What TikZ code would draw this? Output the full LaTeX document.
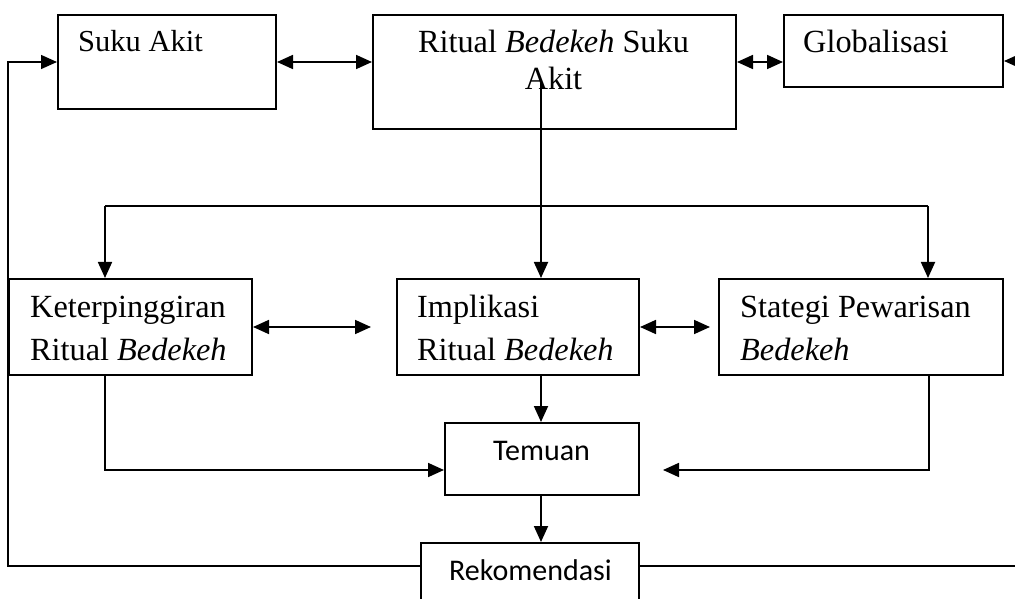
\documentclass[tikz,border=0pt]{standalone}
\usepackage{fontspec}
\setmainfont{Liberation Serif}
\newfontfamily\calfont{Carlito}
\usetikzlibrary{arrows.meta,calc}
\tikzset{
  box/.style={draw, line width=2bp, inner sep=0pt, anchor=north west},
  txt/.style={anchor=base west, inner sep=0pt, font=\fontsize{32.3bp}{38bp}\selectfont},
  txtc/.style={anchor=base, inner sep=0pt, font=\fontsize{32.3bp}{38bp}\selectfont},
  stxt/.style={anchor=base west, inner sep=0pt, font=\calfont\fontsize{30bp}{36bp}\selectfont},
  conn/.style={line width=1.8bp},
  thin/.style={line width=1.4bp},
  arr/.style={conn, -{Triangle[length=16bp,width=14bp]}},
  darr/.style={conn, {Triangle[length=16bp,width=14bp]}-{Triangle[length=16bp,width=14bp]}},
}
\begin{document}
\begin{tikzpicture}[x=1bp,y=-1bp]
\useasboundingbox (0,0) rectangle (1015,599);
% boxes
\node[box, minimum width=218bp, minimum height=94bp] (suku) at (57,14) {};
\node[box, minimum width=363bp, minimum height=114bp] (ritual) at (372,14) {};
\node[box, minimum width=219bp, minimum height=72bp] (glob) at (783,14) {};
\node[box, minimum width=243bp, minimum height=96bp] (keter) at (8,278) {};
\node[box, minimum width=242bp, minimum height=96bp] (impl) at (396,278) {};
\node[box, minimum width=284bp, minimum height=96bp] (strat) at (718,278) {};
\node[box, minimum width=194bp, minimum height=72bp] (temuan) at (444,422) {};
\node[box, minimum width=218bp, minimum height=80bp] (rekom) at (420,542) {};
% texts
\node[txt, font=\fontsize{30.5bp}{36bp}\selectfont] (tsuku) at (78,52) {Suku Akit};
\node[txtc] (trit1) at (553.5,53) {Ritual \textit{Bedekeh} Suku};
\node[txtc] (trit2) at (553.5,90) {Akit};
\node[txt] (tglob) at (803,53) {Globalisasi};
\node[txt] (tket1) at (30,317) {Keterpinggiran};
\node[txt] (tket2) at (30,360) {Ritual \textit{Bedekeh}};
\node[txt] (timp1) at (417,317) {Implikasi};
\node[txt] (timp2) at (417,360) {Ritual \textit{Bedekeh}};
\node[txt] (tstr1) at (740,317) {Stategi Pewarisan};
\node[txt] (tstr2) at (740,360) {\textit{Bedekeh}};
\node[stxt] (ttem) at (493,460) {Temuan};
\node[stxt] (trek) at (449,580) {Rekomendasi};
% free ends and bends
\coordinate (gr) at (1020,61);
\coordinate (rv) at (541,83);
\coordinate (hl) at (105,206);
\coordinate (hr) at (928,206);
\coordinate (ki) at (371,327);
\coordinate (is) at (710,327);
\coordinate (tk) at (105,470);
\coordinate (ts) at (929,470);
\coordinate (tf) at (663,470);
\coordinate (rl) at (8,566);
\coordinate (rr) at (1020,566);
% connectors
\draw[darr] (suku.east) -- (suku.east -| ritual.west);
\draw[darr] (suku.east -| ritual.east) -- (suku.east -| glob.west);
\draw[arr] (gr) -- (gr -| glob.east);
\draw[arr] (rv) -- (rv |- impl.north);
\draw[conn] (hl) -- (hr);
\draw[arr] (hl) -- (hl |- keter.north);
\draw[arr] (hr) -- (hr |- strat.north);
\draw[darr] (keter.east |- ki) -- (ki);
\draw[darr] (impl.east |- is) -- (is);
\draw[arr] (rv |- impl.south) -- (rv |- temuan.north);
\draw[arr] (tk |- keter.south) -- (tk) -- (tk -| temuan.west);
\draw[arr] (ts |- strat.south) -- (ts) -- (tf);
\draw[arr] (rv |- temuan.south) -- (rv |- rekom.north);
\draw[thin, -{Triangle[length=16bp,width=14bp]}] (rekom.west |- rl) -- (rl) -- (rl |- suku.west) -- (suku.west);
\draw[thin] (rekom.east |- rr) -- (rr);
\end{tikzpicture}
\end{document}
